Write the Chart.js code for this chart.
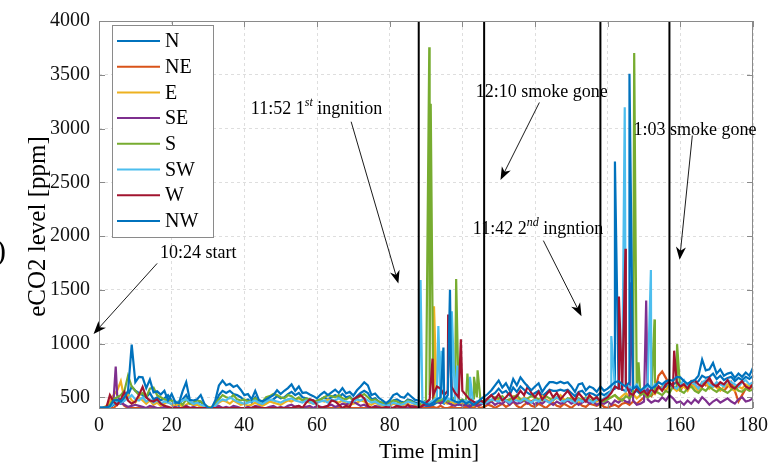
<!DOCTYPE html>
<html><head><meta charset="utf-8">
<script src="https://cdn.jsdelivr.net/npm/chart.js@4.4.1/dist/chart.umd.min.js"></script>
<style>html,body{margin:0;padding:0;background:#fff;}</style>
</head><body>
<canvas id="c" width="780" height="466"></canvas>
<script>
// ---------- data ----------
const minutes = [0,1,2,3,4,5,6,7,8,9,10,11,12,13,14,15,16,17,18,19,20,21,22,23,24,25,26,27,28,29,30,31,32,33,34,35,36,37,38,39,40,41,42,43,44,45,46,47,48,49,50,51,52,53,54,55,56,57,58,59,60,61,62,63,64,65,66,67,68,69,70,71,72,73,74,75,76,77,78,79,80,81,82,83,84,85,86,87,88,89,90,91,92,93,94,95,96,97,98,99,100,101,102,103,104,105,106,107,108,109,110,111,112,113,114,115,116,117,118,119,120,121,122,123,124,125,126,127,128,129,130,131,132,133,134,135,136,137,138,139,140,141,142,143,144,145,146,147,148,149,150,151,152,153,154,155,156,157,158,159,160,161,162,163,164,165,166,167,168,169,170,171,172,173,174,175,176,177,178,179,180];
const seriesNames = ['N','NE','E','SE','S','SW','W','NW'];
const seriesColors = ['#0072BD','#D95319','#EDB120','#7E2F8E','#77AC30','#4DBEEE','#A2142F','#0072BD'];

const N = [400,400,400,400,430,450,440,470,520,600, 560,540,520,500,540,480,500,470,490,520, 470,440,420,480,520,450,430,440,460,420, 400,400,430,520,560,540,560,530,520,500,
 470,480,450,500,440,430,450,470,480,510, 490,500,530,550,520,540,500,490,480,470, 460,480,500,480,500,520,500,530,500,510, 470,510,540,560,540,480,490,460,440,430,
 440,470,480,460,450,480,470,450,440,430, 420,410,430,450,460,440,470,450,440,430, 440,420,430,410,430,450,470,490,520,540, 580,540,560,520,590,550,600,570,540,520,
 540,560,510,540,570,560,560,570,560,570, 540,510,550,560,520,540,530,510,540,520, 540,560,580,590,570,560,590,540,560,530, 550,570,540,560,590,580,600,610,620,640,
 630,610,600,620,630,650,700,680,690,720, 670,700,660,680,690,650,680,660,690,670, 700];
const NE = [400,400,400,400,400,430,460,420,400,400, 400,400,400,400,400,400,400,400,400,400, 400,400,400,400,400,400,400,400,400,400, 400,400,400,400,400,400,400,400,400,400,
 400,400,400,400,400,400,400,400,400,400, 400,400,400,400,400,400,400,400,400,400, 400,400,400,400,400,400,400,400,400,400, 400,400,400,400,400,400,400,400,400,400,
 400,400,400,400,400,400,400,400,400,400, 400,400,410,400,420,400,400,410,400,400, 400,410,400,400,420,400,410,430,420,400, 420,440,410,430,460,420,400,430,450,420,
 410,440,420,400,430,450,420,410,440,420, 400,430,450,420,410,440,430,420,440,410, 400,420,430,410,440,450,430,460,440,470, 500,530,510,560,700,740,680,620,600,580,
 560,620,600,650,620,580,640,610,660,600, 620,580,560,600,640,560,460,520,580,600, 620];
const E = [400,400,420,460,520,560,650,480,520,470, 450,500,470,440,470,430,450,420,440,460, 430,420,440,410,430,450,420,430,410,420, 400,410,420,450,470,460,440,470,450,430,
 440,420,430,450,430,420,440,460,450,440, 430,450,470,460,480,490,470,460,450,440, 450,470,460,480,470,460,450,470,440,430, 440,450,470,460,440,430,450,430,420,410,
 420,440,430,420,430,440,420,430,420,440, 450,430,470,460,480,450,440,460,430,450, 440,430,450,420,440,430,450,470,460,490, 480,500,470,460,510,490,470,500,480,460,
 490,470,510,480,460,500,490,520,480,470, 500,480,460,490,470,510,490,460,480,470, 490,500,520,480,510,540,500,530,490,520, 540,500,560,530,580,600,560,620,590,560,
 580,600,560,620,590,560,600,640,580,610, 590,560,600,620,580,560,600,580,620,600, 580];
const SE = [400,400,400,420,470,520,450,430,410,420, 430,420,410,400,420,410,400,400,410,400, 400,410,400,400,420,400,410,400,400,400, 400,400,410,420,400,410,400,420,410,400,
 400,410,400,420,410,400,400,410,420,400, 410,400,420,430,410,420,400,410,420,400, 420,410,400,420,430,410,420,440,430,450, 460,440,420,430,410,400,420,410,400,400,
 410,400,420,400,410,400,420,410,400,420, 430,420,460,460,440,480,450,430,420,440, 420,430,410,440,420,430,450,440,460,430, 450,440,470,430,460,440,450,470,440,460,
 430,460,440,470,450,430,460,440,450,470, 440,460,430,450,470,440,460,430,450,440, 460,430,470,450,480,460,450,470,430,440, 460,480,450,470,460,500,470,520,490,450,
 460,430,470,440,480,450,500,470,430,460, 480,450,470,490,460,440,480,500,460,470, 490];
const S = [400,400,410,430,480,500,520,560,700,600, 560,520,540,500,580,590,520,500,480,470, 470,450,460,430,480,440,450,470,460,430, 410,400,440,480,520,500,490,520,480,470,
 480,460,470,490,470,460,500,510,530,520, 500,490,520,510,480,500,470,490,480,460, 470,480,500,520,510,500,520,490,480,500, 470,490,510,530,500,470,480,460,450,440,
 450,470,460,440,450,470,460,440,430,450, 470,520,480,460,470,490,460,480,500,470, 480,460,470,490,500,470,460,480,470,500, 490,510,470,480,500,520,480,470,490,510,
 500,480,470,510,490,470,500,480,460,490, 480,460,490,470,500,480,460,490,470,460, 480,500,520,490,470,510,490,530,560,520, 540,500,520,560,540,520,560,540,600,580,
 560,540,580,600,560,540,580,560,600,570, 550,580,560,540,570,600,560,550,580,560, 570];
const SW = [400,400,400,410,440,460,450,470,490,520, 480,470,500,460,480,450,470,440,460,450, 440,460,450,470,480,460,440,450,430,420, 400,400,420,460,480,470,500,480,460,450,
 440,450,460,470,450,440,460,480,470,460, 450,470,480,490,470,460,450,470,460,440, 450,460,470,450,480,470,490,470,460,450, 460,480,470,490,470,450,460,440,430,420,
 430,450,440,430,440,460,450,440,430,450, 460,450,470,500,480,460,490,470,460,450, 460,470,450,440,460,450,440,460,480,470, 460,490,470,450,480,470,460,490,470,450,
 480,460,490,470,450,480,500,470,460,480, 470,450,480,460,490,470,450,480,470,490, 520,560,600,580,620,560,600,580,620,560, 580,600,560,620,600,580,640,620,600,580,
 620,660,600,640,620,580,640,660,620,600, 640,620,600,660,640,620,600,640,660,620, 640];
const W = [400,400,400,520,460,430,480,550,470,440, 460,520,596,500,470,460,480,440,420,410, 400,400,400,400,410,400,400,400,400,400, 400,400,400,400,400,400,400,400,400,400,
 400,400,400,410,400,400,400,400,400,400, 400,400,400,400,410,420,400,450,480,470, 430,400,410,420,470,460,430,400,420,410, 480,500,520,490,420,400,410,400,400,410,
 400,400,420,410,400,430,400,410,400,420, 450,480,520,600,580,520,560,600,540,500, 560,520,480,460,440,470,450,490,520,480, 530,470,500,540,480,510,560,520,600,540,
 500,550,480,520,560,500,540,480,520,560, 510,470,540,500,460,520,480,500,460,480, 500,540,600,580,560,620,540,520,580,540, 560,520,580,540,600,560,620,640,600,640,
 600,620,580,640,660,620,600,640,680,620, 600,640,620,660,600,580,620,650,600,580, 620];
const NW = [405,405,405,415,470,475,460,500,560,990, 640,690,685,585,665,545,555,525,560,470, 530,455,445,555,640,475,470,480,520,440, 402,400,470,610,655,612,625,596,611,570,
 520,530,480,560,475,460,480,500,520,565, 530,560,585,620,560,600,540,545,525,510, 490,525,550,520,545,570,540,585,535,550, 515,565,600,640,610,520,535,495,470,445,
 470,520,535,505,495,535,505,475,470,455, 440,430,450,480,500,470,520,480,460,450, 470,440,460,430,450,480,505,530,565,610, 655,590,630,565,670,610,685,640,600,565,
 600,630,550,600,640,640,630,645,630,640, 600,550,620,630,565,600,585,550,600,560, 580,610,640,650,620,600,640,580,600,560, 590,620,580,600,640,620,650,660,655,690,
 685,650,625,650,660,700,850,750,760,820, 720,760,700,720,730,680,720,690,730,700, 775];

// short sensor spikes [minute, ppm]
const N_spikes  = [[142.0,2693]];
const NE_spikes = [];
const E_spikes  = [[92.2,1346]];
const SE_spikes = [[4.6,786],[146.5,1570],[150.6,1400]];
const S_spikes  = [[90.9,3755],[91.3,3229],[98.3,1600],[101.4,720],[103.2,690],[104.2,750],[147.3,3703],[148.5,825],[152.9,1224],[159.1,994]];
const SW_spikes = [[88.5,1591],[93.4,1162],[94.3,933],[97.1,1300],[98.6,795],[102.1,690],[141.0,1070],[144.7,3198],[151.9,1683]];
const W_spikes  = [[91.8,859],[96.1,1270],[99.6,1040],[143.1,1438],[144.9,1881],[158.3,933]];
const NW_spikes = [[94.8,963],[96.6,1499],[146.0,3510]];

const eventTimes = [88, 106, 138, 157];
const xTicks = [0,20,40,60,80,100,120,140,160,180];
const yTicks = [500,1000,1500,2000,2500,3000,3500,4000];

const notes = [
  {parts:[['10:24 start','']], t:16.8, v:1842, from:[16.0,1745], to:[-1.5,1089]},
  {parts:[['11:52 1',''],['st','sup'],[' ingnition','']], t:41.8, v:3183, from:[69.4,3063], to:[82.4,1557]},
  {parts:[['12:10 smoke gone','']], t:103.7, v:3339, from:[121.2,3242], to:[110.5,2521]},
  {parts:[['11:42 2',''],['nd','sup'],[' ingntion','']], t:102.9, v:2062, from:[122.3,1957], to:[132.8,1254]},
  {parts:[['1:03 smoke gone','']], t:147.1, v:2981, from:[163.3,2935], to:[159.8,1778]}
];

// ---------- build datasets ----------
const bases = [N, NE, E, SE, S, SW, W, NW];
const spikes = [N_spikes, NE_spikes, E_spikes, SE_spikes, S_spikes, SW_spikes, W_spikes, NW_spikes];
const datasets = bases.map((vals, i) => {
  const pts = minutes.map((t, k) => ({x: t, y: vals[k]}))
    .concat(spikes[i].map(p => ({x: p[0], y: p[1]})))
    .sort((a, b) => a.x - b.x);
  return {label: seriesNames[i], data: pts, borderColor: seriesColors[i], backgroundColor: seriesColors[i],
    borderWidth: 2.2, pointRadius: 0, tension: 0, order: 9 - i, isSeries: true};
});
eventTimes.forEach(t => datasets.push({label: 'event', data: [{x: t, y: 400}, {x: t, y: 4000}],
  borderColor: '#000', borderWidth: 2, pointRadius: 0, order: 0, isSeries: false}));

const SERIF = '"Liberation Serif", "Times New Roman", serif';

function drawArrow(ctx, x1, y1, x2, y2) {
  const ang = Math.atan2(y2 - y1, x2 - x1), L = 13, Wd = 5;
  const c = Math.cos(ang), s = Math.sin(ang);
  ctx.beginPath(); ctx.moveTo(x1, y1); ctx.lineTo(x2 - c * 8, y2 - s * 8);
  ctx.lineWidth = 0.9; ctx.strokeStyle = '#000'; ctx.stroke();
  const bx = x2 - c * L, by = y2 - s * L, nx = -s, ny = c;
  ctx.beginPath(); ctx.moveTo(x2, y2);
  ctx.lineTo(bx + nx * Wd, by + ny * Wd);
  ctx.lineTo(x2 - c * L * 0.7, y2 - s * L * 0.7);
  ctx.lineTo(bx - nx * Wd, by - ny * Wd);
  ctx.closePath(); ctx.fillStyle = '#000'; ctx.fill();
}

const decor = {
  id: 'decor',
  afterDatasetsDraw(chart) {
    const {ctx, chartArea: a, scales: {x, y}} = chart;
    ctx.save();
    // frame
    ctx.strokeStyle = '#8a8a8a'; ctx.lineWidth = 1;
    ctx.strokeRect(a.left + 0.5, a.top + 0.5, a.right - a.left - 1, a.bottom - a.top);
    ctx.beginPath();
    xTicks.forEach(v => { const p = Math.round(x.getPixelForValue(v)) + 0.5;
      ctx.moveTo(p, a.bottom); ctx.lineTo(p, a.bottom - 6); ctx.moveTo(p, a.top); ctx.lineTo(p, a.top + 6); });
    yTicks.forEach(v => { const p = Math.round(y.getPixelForValue(v)) + 0.5;
      ctx.moveTo(a.left, p); ctx.lineTo(a.left + 6, p); ctx.moveTo(a.right, p); ctx.lineTo(a.right - 6, p); });
    ctx.stroke();
    // legend
    const lx = 112, ly = 25, lw = 101, lh = 212;
    ctx.fillStyle = '#fff'; ctx.fillRect(lx, ly, lw, lh);
    ctx.strokeStyle = '#8a8a8a'; ctx.strokeRect(lx + 0.5, ly + 0.5, lw, lh);
    ctx.font = '20px ' + SERIF; ctx.textBaseline = 'middle'; ctx.textAlign = 'left';
    chart.data.datasets.filter(d => d.isSeries).forEach((d, i) => {
      const cy = 41 + i * 25.7;
      ctx.strokeStyle = d.borderColor; ctx.lineWidth = 2;
      ctx.beginPath(); ctx.moveTo(117, cy); ctx.lineTo(160, cy); ctx.stroke();
      ctx.fillStyle = '#000'; ctx.fillText(d.label, 165, cy + 1);
    });
    ctx.restore();
  },
  afterDraw(chart) {
    const {ctx, chartArea: a, scales: {x, y}} = chart;
    ctx.save();
    ctx.fillStyle = '#000'; ctx.textBaseline = 'middle';
    // axis titles
    ctx.font = '22px ' + SERIF; ctx.textAlign = 'center';
    ctx.fillText('Time [min]', (a.left + a.right) / 2 + 3, 452);
    ctx.save(); ctx.translate(38, (a.top + a.bottom) / 2 + 12); ctx.rotate(-Math.PI / 2);
    ctx.font = '25px ' + SERIF; ctx.fillText('eCO2 level [ppm]', 0, 0); ctx.restore();
    // clipped glyph at the left edge of the source figure
    ctx.font = '30px ' + SERIF; ctx.textAlign = 'left'; ctx.fillText(')', -4, 252);
    // annotations
    notes.forEach(n => {
      let px = x.getPixelForValue(n.t); const py = y.getPixelForValue(n.v);
      ctx.textAlign = 'left';
      n.parts.forEach(([txt, kind]) => {
        if (kind === 'sup') { ctx.font = 'italic 12px ' + SERIF; ctx.fillText(txt, px, py - 6); }
        else { ctx.font = '18px ' + SERIF; ctx.fillText(txt, px, py); }
        px += ctx.measureText(txt).width;
      });
      drawArrow(ctx, x.getPixelForValue(n.from[0]), y.getPixelForValue(n.from[1]),
                     x.getPixelForValue(n.to[0]), y.getPixelForValue(n.to[1]));
    });
    ctx.restore();
  }
};

new Chart(document.getElementById('c'), {
  type: 'line',
  data: {datasets},
  options: {
    responsive: false, animation: false, devicePixelRatio: 1,
    layout: {padding: {left: 0, right: 27, top: 16, bottom: 0}},
    plugins: {legend: {display: false}, tooltip: {enabled: false}},
    elements: {point: {radius: 0}, line: {tension: 0}},
    scales: {
      x: {type: 'linear', min: 0, max: 180,
        afterBuildTicks(s) { s.ticks = xTicks.map(v => ({value: v})); },
        afterFit(s) { s.height = 58; },
        ticks: {font: {family: SERIF, size: 20}, color: '#111', padding: 6, maxRotation: 0, callback: v => String(v)},
        grid: {color: '#dedede', lineWidth: 1, drawTicks: false},
        border: {display: false, dash: [3, 3]}},
      y: {type: 'linear', min: 400, max: 4000,
        afterBuildTicks(s) { s.ticks = yTicks.map(v => ({value: v})); },
        afterFit(s) { s.width = 99; },
        ticks: {font: {family: SERIF, size: 20}, color: '#111', padding: 9, callback: v => String(v)},
        grid: {color: '#dedede', lineWidth: 1, drawTicks: false},
        border: {display: false, dash: [3, 3]}}
    }
  },
  plugins: [decor]
});
</script>
</body></html>
